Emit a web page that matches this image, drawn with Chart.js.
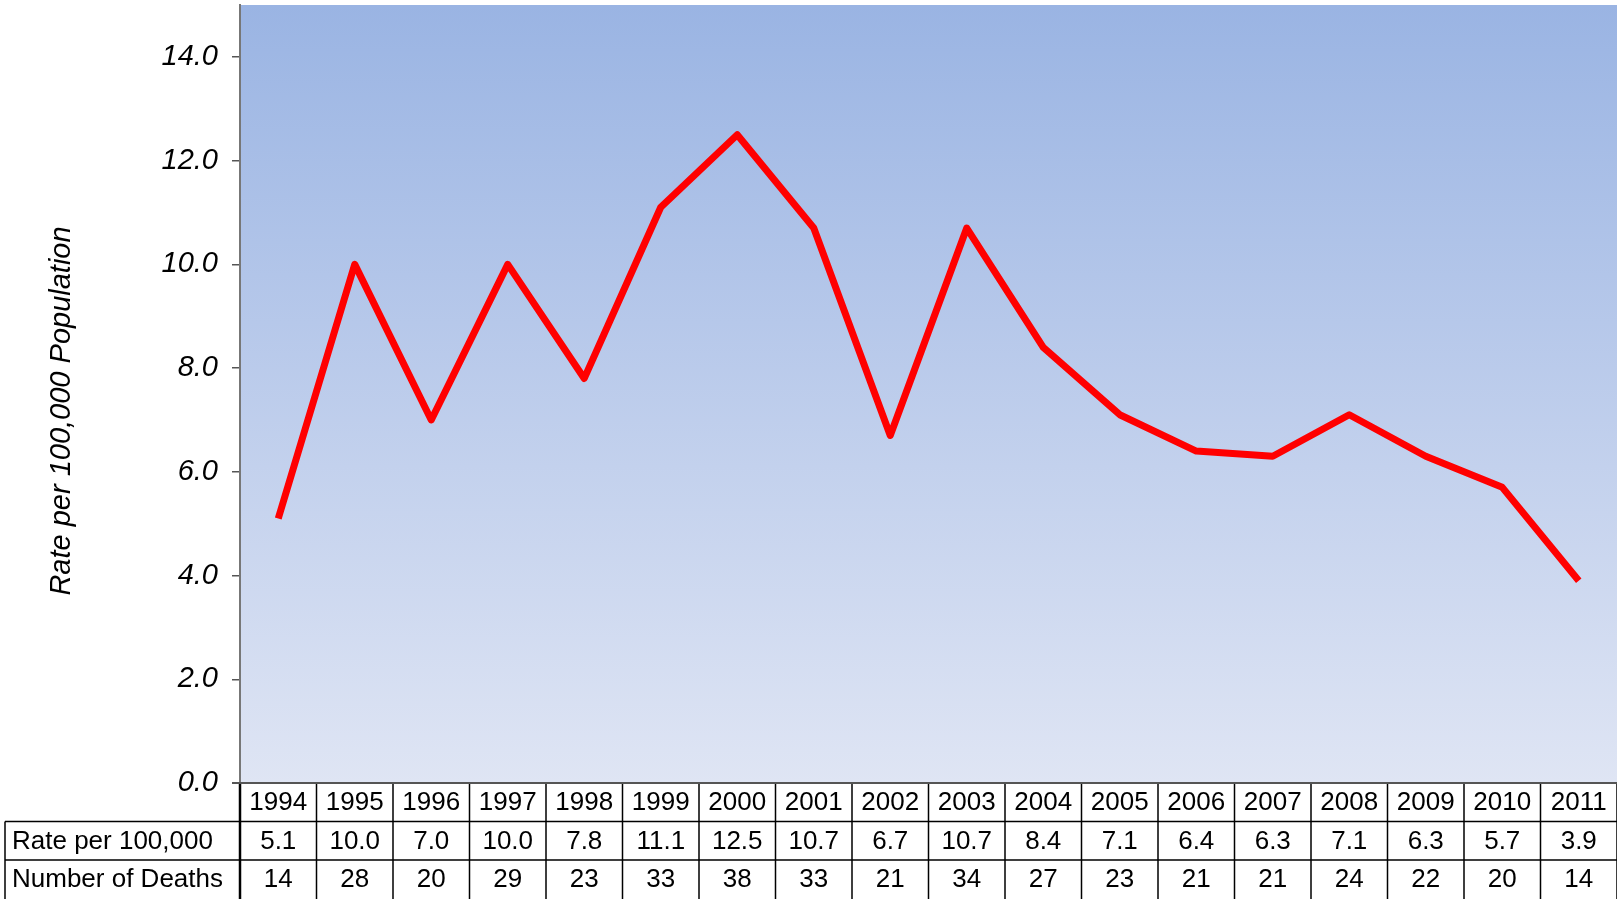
<!DOCTYPE html>
<html>
<head>
<meta charset="utf-8">
<script src="https://cdn.jsdelivr.net/npm/chart.js@4"></script>
<style>
  html, body { margin: 0; padding: 0; background: #fff; }
  #wrap { width: 1617px; height: 899px; }
</style>
</head>
<body>
<div id="wrap"><canvas id="rateChart"></canvas></div>
<script>
const years = ['1994', '1995', '1996', '1997', '1998', '1999', '2000', '2001', '2002',
               '2003', '2004', '2005', '2006', '2007', '2008', '2009', '2010', '2011'];
const rates = [5.1, 10.0, 7.0, 10.0, 7.8, 11.1, 12.5, 10.7, 6.7,
               10.7, 8.4, 7.1, 6.4, 6.3, 7.1, 6.3, 5.7, 3.9];
const deaths = [14, 28, 20, 29, 23, 33, 38, 33, 21,
                34, 27, 23, 21, 21, 24, 22, 20, 14];
const tableRows = [
    { label: 'Rate per 100,000', values: rates.map(v => v.toFixed(1)) },
    { label: 'Number of Deaths', values: deaths.map(String) }
];
const yTitle = 'Rate per 100,000 Population';

const FONT = '"Liberation Sans", Arial, sans-serif';

// gradient fill behind the plot
const backdrop = {
    id: 'backdrop',
    beforeDraw(chart) {
        const { ctx, chartArea: a } = chart;
        const g = ctx.createLinearGradient(0, a.top, 0, a.bottom);
        g.addColorStop(0, '#9ab4e3');
        g.addColorStop(1, '#dfe5f4');
        ctx.save();
        ctx.fillStyle = g;
        ctx.fillRect(a.left, a.top, a.right - a.left, a.bottom - a.top);
        ctx.restore();
    }
};

// data table under the plot + y title
const dataTable = {
    id: 'dataTable',
    afterDraw(chart) {
        const { ctx, chartArea: a, scales } = chart;
        const x = scales.x;
        const half = (x.getPixelForValue(1) - x.getPixelForValue(0)) / 2;
        const rowH = 38.5;
        const top = a.bottom;
        const bottom = chart.height;
        const labelLeft = 5;

        ctx.save();
        ctx.strokeStyle = '#000';
        ctx.lineWidth = 1.5;

        // horizontal lines
        ctx.beginPath();
        ctx.moveTo(labelLeft, top + rowH);
        ctx.lineTo(a.right, top + rowH);
        ctx.moveTo(labelLeft, top + rowH * 2);
        ctx.lineTo(a.right, top + rowH * 2);
        ctx.stroke();

        // vertical lines
        ctx.beginPath();
        years.forEach((y, i) => {
            const px = x.getPixelForValue(i) + half;
            ctx.moveTo(px, top);
            ctx.lineTo(px, bottom);
        });
        ctx.moveTo(labelLeft, top + rowH);
        ctx.lineTo(labelLeft, bottom);
        ctx.stroke();

        ctx.lineWidth = 2.5;
        ctx.beginPath();
        ctx.moveTo(a.left, top);
        ctx.lineTo(a.left, bottom);
        ctx.stroke();

        // axis line along the top of the table
        ctx.strokeStyle = '#555';
        ctx.lineWidth = 2;
        ctx.beginPath();
        ctx.moveTo(a.left - 8, top);
        ctx.lineTo(a.right, top);
        ctx.stroke();

        // texts
        ctx.fillStyle = '#000';
        ctx.font = '26px ' + FONT;
        ctx.textBaseline = 'middle';
        ctx.textAlign = 'center';
        years.forEach((y, i) => {
            ctx.fillText(y, x.getPixelForValue(i), top + rowH / 2 + 1);
        });
        tableRows.forEach((row, r) => {
            const cy = top + rowH * (r + 1) + rowH / 2 + 1;
            ctx.textAlign = 'left';
            ctx.fillText(row.label, 12, cy);
            ctx.textAlign = 'center';
            row.values.forEach((v, i) => ctx.fillText(v, x.getPixelForValue(i), cy));
        });

        // y axis title
        ctx.font = 'italic 29px ' + FONT;
        ctx.translate(62, 411);
        ctx.rotate(-Math.PI / 2);
        ctx.textAlign = 'center';
        ctx.fillText(yTitle, 0, 0);
        ctx.restore();
    }
};

new Chart(document.getElementById('rateChart'), {
    type: 'line',
    data: {
        labels: years,
        datasets: [
            {
                label: 'Rate per 100,000',
                data: rates,
                borderColor: '#ff0000',
                borderWidth: 7,
                pointRadius: 0,
                tension: 0,
                borderJoinStyle: 'round',
                fill: false
            }
        ]
    },
    options: {
        responsive: true,
        maintainAspectRatio: false,
        animation: false,
        layout: { padding: { top: 5, bottom: 116, left: 0, right: 0 } },
        plugins: {
            legend: { display: false },
            tooltip: { enabled: false }
        },
        scales: {
            x: {
                display: false,
                offset: true
            },
            y: {
                min: 0,
                max: 15,
                afterFit(scale) {
                    scale.width = 240;
                    scale.paddingTop = 0;
                    scale.paddingBottom = 0;
                },
                afterBuildTicks(scale) {
                    scale.ticks = [0, 2, 4, 6, 8, 10, 12, 14].map(v => ({ value: v }));
                },
                ticks: {
                    padding: 14,
                    color: '#000',
                    font: { family: FONT, size: 29, style: 'italic' },
                    callback: v => v.toFixed(1)
                },
                grid: {
                    drawOnChartArea: false,
                    drawTicks: true,
                    tickLength: 8,
                    color: '#555',
                    lineWidth: 1.5
                },
                border: { display: true, color: '#777', width: 2 }
            }
        }
    },
    plugins: [backdrop, dataTable]
});
</script>
</body>
</html>
